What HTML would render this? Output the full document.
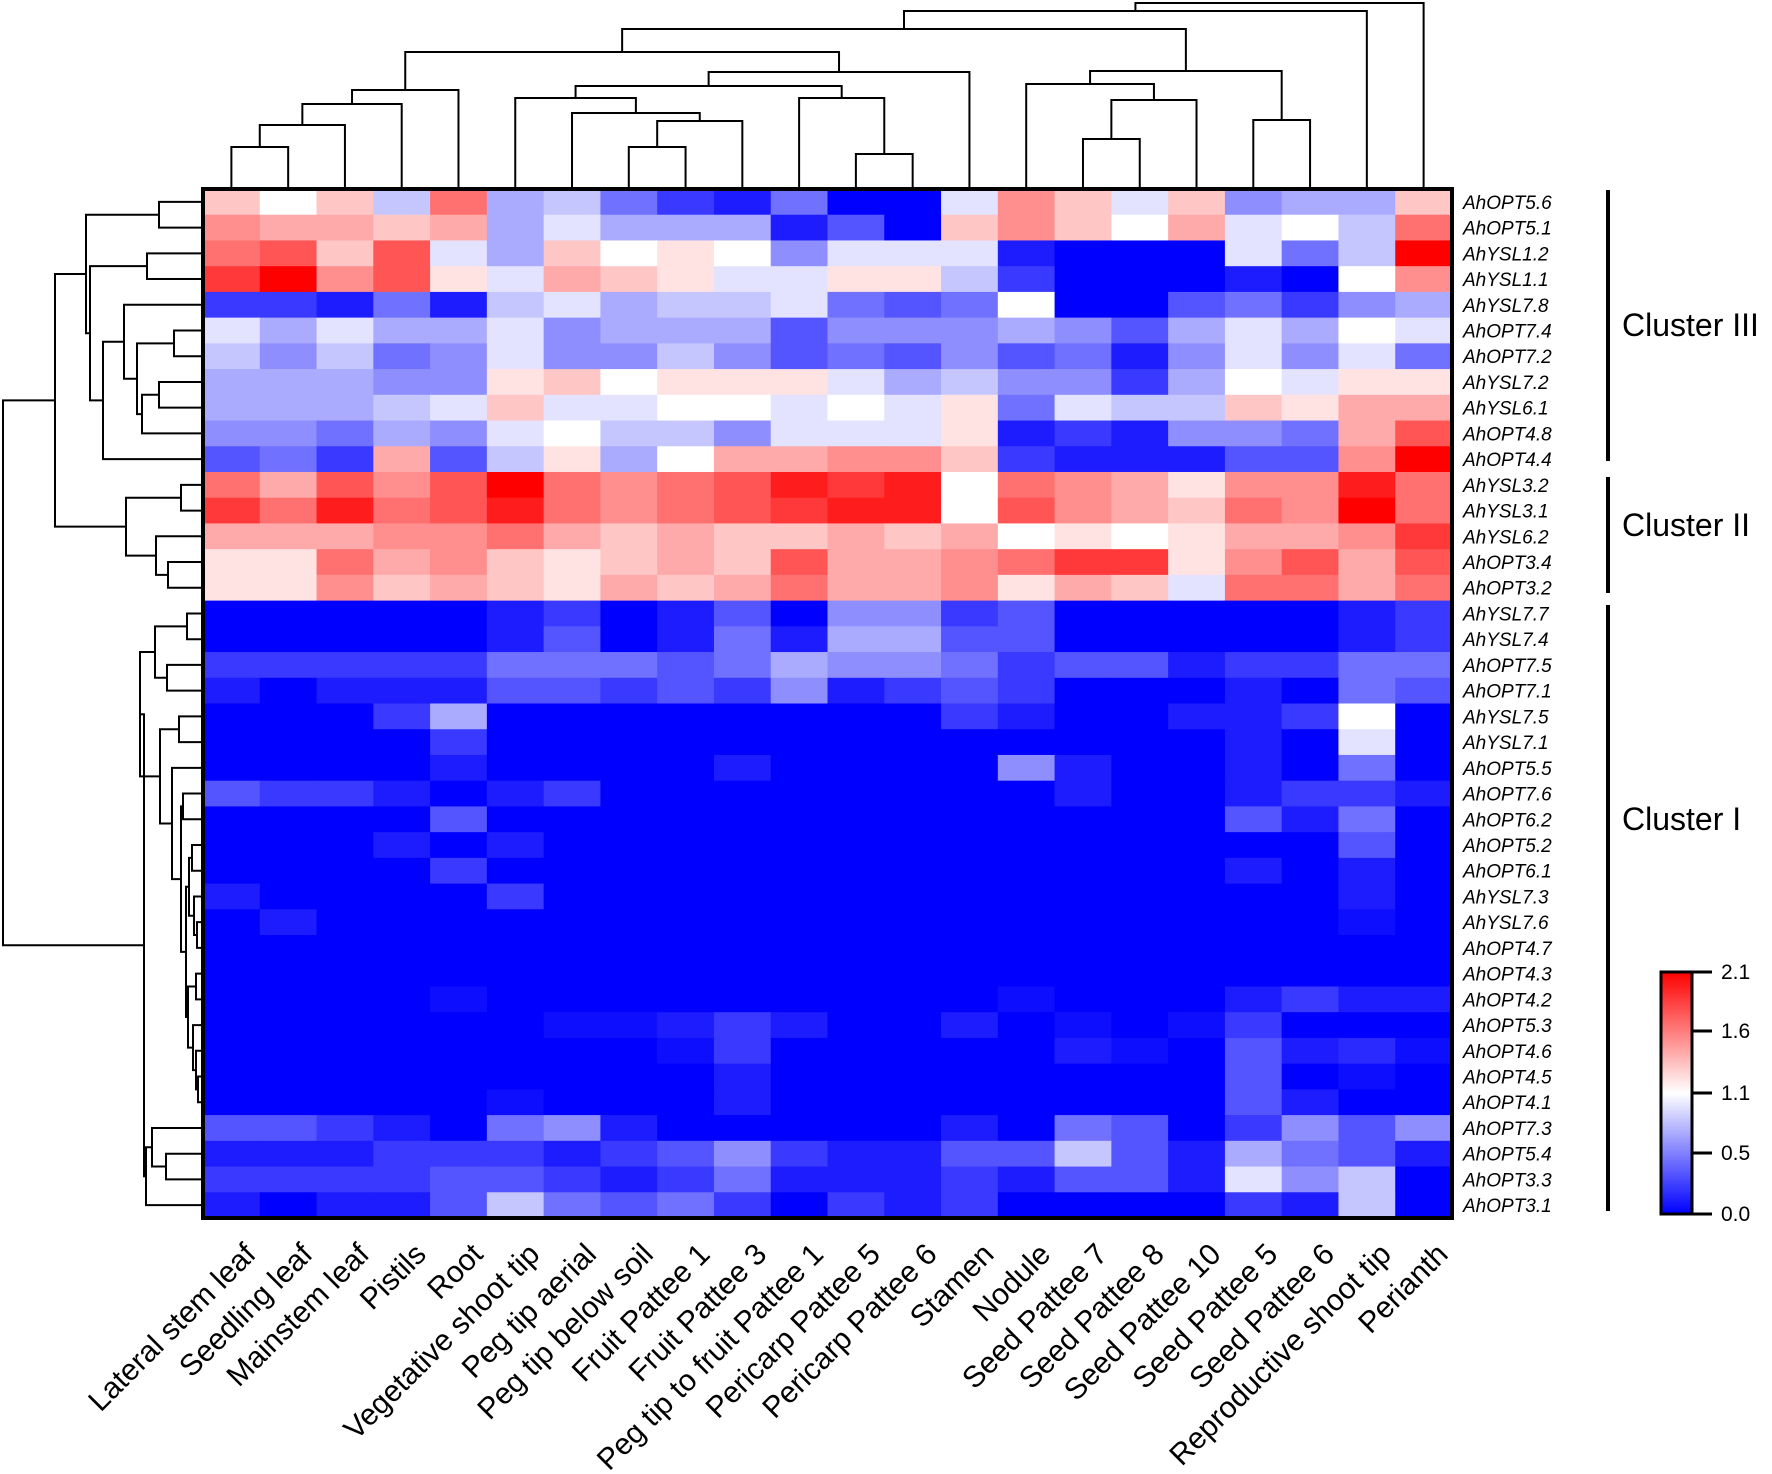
<!DOCTYPE html>
<html><head><meta charset="utf-8"><style>
html,body{margin:0;padding:0;background:#fff;}
svg{display:block;}
</style></head><body>
<svg id="s" xmlns="http://www.w3.org/2000/svg" width="1772" height="1474" viewBox="0 0 1772 1474">
<defs><linearGradient id="g" x1="0" y1="1" x2="0" y2="0">
<stop offset="0" stop-color="#0000ff"/><stop offset="0.5" stop-color="#ffffff"/><stop offset="1" stop-color="#ff0000"/>
</linearGradient></defs>
<g id="hm"></g>
<g id="dd" fill="none" stroke="#000" stroke-width="2"></g>
<rect x="203" y="189" width="1249" height="1029" fill="none" stroke="#000" stroke-width="4"/>
<g id="lab" font-family="Liberation Sans, Arial, sans-serif" fill="#000"></g>
<g stroke="#000" stroke-width="4">
<line x1="1608" y1="190" x2="1608" y2="461"/>
<line x1="1608" y1="477" x2="1608" y2="593"/>
<line x1="1608" y1="605" x2="1608" y2="1211"/>
</g>
<g font-family="Liberation Sans, Arial, sans-serif" font-size="32" fill="#000">
<text x="1622" y="336">Cluster III</text>
<text x="1622" y="536">Cluster II</text>
<text x="1622" y="830">Cluster I</text>
</g>
<rect x="1661" y="972" width="31" height="242" fill="url(#g)" stroke="#000" stroke-width="3"/>
<g stroke="#000" stroke-width="3">
<line x1="1692" y1="972" x2="1712" y2="972"/><line x1="1692" y1="1031" x2="1712" y2="1031"/>
<line x1="1692" y1="1093" x2="1712" y2="1093"/><line x1="1692" y1="1153" x2="1712" y2="1153"/>
<line x1="1692" y1="1214" x2="1712" y2="1214"/>
</g>
<g font-family="Liberation Sans, Arial, sans-serif" font-size="21" fill="#000">
<text x="1721" y="979">2.1</text><text x="1721" y="1038">1.6</text><text x="1721" y="1100">1.1</text>
<text x="1721" y="1160">0.5</text><text x="1721" y="1221">0.0</text>
</g>
</svg>
<script>
const X0=203,Y0=189,CW=1249/22,RH=1029/40;
const cols=["Lateral stem leaf","Seedling leaf","Mainstem leaf","Pistils","Root","Vegetative shoot tip","Peg tip aerial","Peg tip below soil","Fruit Pattee 1","Fruit Pattee 3","Peg tip to fruit Pattee 1","Pericarp Pattee 5","Pericarp Pattee 6","Stamen","Nodule","Seed Pattee 7","Seed Pattee 8","Seed Pattee 10","Seed Pattee 5","Seed Pattee 6","Reproductive shoot tip","Perianth"];
const rows=["AhOPT5.6","AhOPT5.1","AhYSL1.2","AhYSL1.1","AhYSL7.8","AhOPT7.4","AhOPT7.2","AhYSL7.2","AhYSL6.1","AhOPT4.8","AhOPT4.4","AhYSL3.2","AhYSL3.1","AhYSL6.2","AhOPT3.4","AhOPT3.2","AhYSL7.7","AhYSL7.4","AhOPT7.5","AhOPT7.1","AhYSL7.5","AhYSL7.1","AhOPT5.5","AhOPT7.6","AhOPT6.2","AhOPT5.2","AhOPT6.1","AhYSL7.3","AhYSL7.6","AhOPT4.7","AhOPT4.3","AhOPT4.2","AhOPT5.3","AhOPT4.6","AhOPT4.5","AhOPT4.1","AhOPT7.3","AhOPT5.4","AhOPT3.3","AhOPT3.1"];
function fill9(){return Array(22).fill(-9);}
function mod(o){const a=fill9();for(const k in o)a[k]=o[k];return a;}
const V=[
[2,0,2,-2,5,-3,-2,-5,-7,-8,-5,-9,-9,-1,4,2,-1,2,-4,-3,-3,2],
[4,3,3,2,3,-3,-1,-3,-3,-3,-8,-6,-9,2,4,2,0,3,-1,0,-2,5],
[5,6,2,6,-1,-3,2,0,1,0,-4,-1,-1,-1,-8,-9,-9,-9,-1,-5,-2,9],
[7,9,4,6,1,-1,3,2,1,-1,-1,1,1,-2,-7,-9,-9,-9,-8,-9,0,4],
[-7,-7,-8,-5,-8,-2,-1,-3,-2,-2,-1,-5,-6,-5,0,-9,-9,-6,-5,-7,-4,-3],
[-1,-3,-1,-3,-3,-1,-4,-3,-3,-3,-6,-4,-4,-4,-3,-4,-6,-3,-1,-3,0,-1],
[-2,-4,-2,-5,-4,-1,-4,-4,-2,-4,-6,-5,-6,-4,-6,-5,-8,-4,-1,-4,-1,-5],
[-3,-3,-3,-4,-4,1,2,0,1,1,1,-1,-3,-2,-4,-4,-7,-3,0,-1,1,1],
[-3,-3,-3,-2,-1,2,-1,-1,0,0,-1,0,-1,1,-5,-1,-2,-2,2,1,3,3],
[-4,-4,-5,-3,-4,-1,0,-2,-2,-4,-1,-1,-1,1,-8,-7,-8,-4,-4,-5,3,6],
[-6,-5,-7,3,-6,-2,1,-3,0,3,3,4,4,2,-7,-8,-8,-8,-6,-6,4,9],
[5,3,6,4,6,9,5,4,5,6,8,7,8,0,5,4,3,1,4,4,8,5],
[7,5,8,5,6,8,5,4,5,6,7,8,8,0,6,4,3,2,5,4,9,5],
[3,3,3,4,4,5,3,2,3,2,2,3,2,3,0,1,0,1,3,3,4,7],
[1,1,5,3,4,2,1,2,3,2,6,3,3,4,5,7,7,1,4,6,3,6],
[1,1,4,2,3,2,1,3,2,3,5,3,3,4,1,3,2,-1,5,5,3,5],
[-9,-9,-9,-9,-9,-8,-7,-9,-8,-6,-9,-4,-4,-7,-6,-9,-9,-9,-9,-9,-8,-7],
[-9,-9,-9,-9,-9,-8,-6,-9,-8,-5,-8,-3,-3,-6,-6,-9,-9,-9,-9,-9,-8,-7],
[-7,-7,-7,-7,-7,-5,-5,-5,-6,-5,-3,-4,-4,-5,-7,-6,-6,-8,-7,-7,-5,-5],
[-8,-9,-8,-8,-8,-6,-6,-7,-6,-7,-4,-8,-7,-6,-7,-9,-9,-9,-8,-9,-5,-6],
[-9,-9,-9,-7,-3,-9,-9,-9,-9,-9,-9,-9,-9,-7,-8,-9,-9,-8,-8,-7,0,-9],
mod({4:-7,20:-1,18:-8}),
mod({4:-8,9:-8,14:-4,15:-8,18:-8,20:-5}),
[-6,-7,-7,-8,-9,-8,-7,-9,-9,-9,-9,-9,-9,-9,-9,-8,-9,-9,-8,-7,-7,-8],
mod({4:-6,18:-6,19:-8,20:-5}),
mod({3:-8,5:-8,20:-6}),
mod({4:-7,18:-8,20:-8}),
mod({0:-8,5:-7,20:-8}),
mod({1:-8,20:-8.5}),
fill9(),fill9(),
mod({4:-8.5,14:-8.5,18:-8,19:-7,20:-8,21:-8}),
mod({6:-8.5,7:-8.5,8:-8,9:-7,10:-8,13:-8,15:-8.5,17:-8.5,18:-7}),
mod({8:-8.5,9:-7,15:-8,16:-8.5,18:-6,19:-8,20:-7.5,21:-8.5}),
mod({9:-8,18:-6,20:-8.5}),
mod({5:-8.5,9:-8,18:-6,19:-8}),
[-6,-6,-7,-8,-9,-5,-4,-8,-9,-9,-9,-9,-9,-8,-9,-5,-6,-9,-7,-4,-6,-4],
[-8,-8,-8,-7,-7,-7,-8,-7,-6,-4,-7,-8,-8,-6,-6,-2,-6,-8,-3,-5,-6,-8],
[-7,-7,-7,-7,-6,-6,-7,-8,-7,-5,-8,-8,-8,-7,-8,-6,-6,-8,-1,-4,-2,-9],
[-8,-9,-8,-8,-6,-2,-5,-6,-5,-7,-9,-7,-8,-7,-9,-9,-9,-9,-7,-8,-2,-9]
];
function col(v){const t=Math.min(1,Math.abs(v)/9);const c=Math.round(255*(1-t));return v<0?`rgb(${c},${c},255)`:`rgb(255,${c},${c})`;}
let h='';
for(let r=0;r<40;r++)for(let c=0;c<22;c++){
h+=`<rect x="${(X0+c*CW).toFixed(2)}" y="${(Y0+r*RH).toFixed(2)}" width="${(CW+0.6).toFixed(2)}" height="${(RH+0.6).toFixed(2)}" fill="${col(V[r][c])}"/>`;}
document.getElementById('hm').innerHTML=h;
let p='';
function dc(n){if(typeof n==='number')return {x:X0+CW*(n+.5),y:Y0};const a=dc(n[0]),b=dc(n[1]),y=n[2];p+=`M${a.x} ${a.y}V${y}H${b.x}V${b.y}`;return {x:(a.x+b.x)/2,y:y};}
function dr(n){if(typeof n==='number')return {y:Y0+RH*(n+.5),x:X0};const a=dr(n[0]),b=dr(n[1]),x=n[2];p+=`M${a.x} ${a.y}H${x}V${b.y}H${b.x}`;return {y:(a.y+b.y)/2,x:x};}
const D=[[[[0,1,147],2,125],3,104],4,90];
const G=[5,[6,[[7,8,147],9,121],113],98];
const H=[10,[11,12,154],98];
const J=[[G,H,86],13,72];
const K=[D,J,52];
const N=[[14,[[15,16,139],17,100],84],[18,19,120],71];
dc([[[K,N,29],20,11],21,3]);
const W=[[5,6,174],[[7,8,159],9,142],137];
const X=[[2,3,147],[[4,W,124],10,103],90];
const III=[[0,1,159],X,86];
const II=[[11,12,181],[13,[14,15,168],156],126];
const T1=[[16,17,187],[18,19,167],155];
const R=[22,[[23,24,183],[[[25,26,192],[27,[28,29,197],194],189],[[30,31,196],[32,[33,[34,35,198],196],193],188],186],181],172];
const T2=[[20,21,179],R,160];
const T3=[[36,[37,38,166],152],39,146];
dr([[III,II,55],[[T1,T2,140],T3,144],3]);
document.getElementById('dd').innerHTML=`<path d="${p}"/>`;
let l='';
rows.forEach((t,i)=>{l+=`<text x="1463" y="${(Y0+RH*(i+.5)+7).toFixed(1)}" font-size="19" font-style="italic">${t}</text>`;});
cols.forEach((t,i)=>{const x=X0+CW*(i+.5)+26,y=1256;l+=`<text x="${x.toFixed(1)}" y="${y}" font-size="30" text-anchor="end" transform="rotate(-45 ${x.toFixed(1)} ${y})">${t}</text>`;});
document.getElementById('lab').innerHTML=l;
</script>
</body></html>
